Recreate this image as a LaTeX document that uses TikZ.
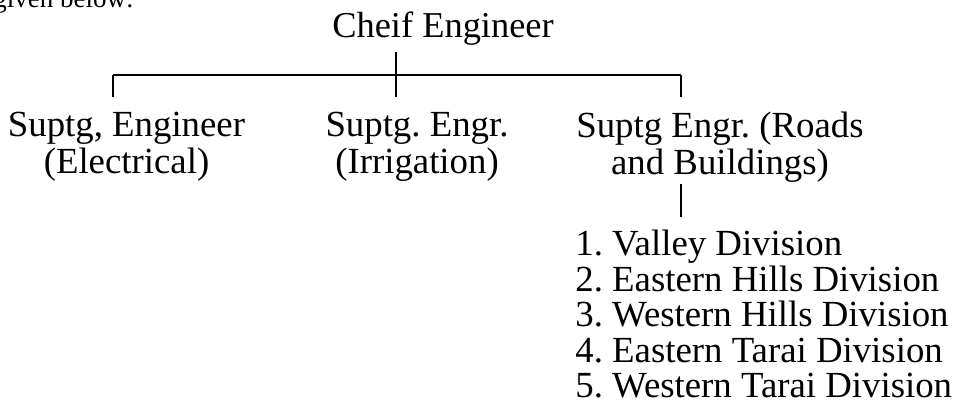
\documentclass[tikz,border=0pt]{standalone}
\usepackage{fontspec}
\setmainfont{Liberation Serif}
\frenchspacing

\begin{document}
\begin{tikzpicture}[
  x=0.5pt, y=-0.5pt,
  head/.style={
    inner sep=0pt,
    font=\fontsize{18.2}{18.3}\selectfont
  },
  post/.style={
    inner sep=0pt,
    align=center,
    anchor=north,
    font=\fontsize{18.4}{18.3}\selectfont
  },
  divlist/.style={
    inner sep=0pt,
    align=left,
    anchor=north west,
    font=\fontsize{18.4}{17.7}\selectfont
  },
  link/.style={line width=1.3pt, draw=black}
]
\useasboundingbox (0,0) rectangle (958,405);

% running text above the chart, cut at the top
\begin{scope}
  \clip (0,0) rectangle (958,405);
  \node[inner sep=0pt, anchor=base west, font=\fontsize{13.5}{16}\selectfont] (lead) at (-7,8) {given below:};
\end{scope}

\node[head, anchor=base] (chief) at (443,38) {Cheif Engineer};

\coordinate (lbar) at (113,75);
\coordinate (hub) at (396,75);
\coordinate (rbar) at (681,75);

\node[post] (elec) at (126.5,112) {Suptg, Engineer\\(Electrical)};
\node[post] (irr) at (417,112) {Suptg. Engr.\\(Irrigation)};
\node[post] (road) at (720,112) {Suptg Engr. (Roads\\and Buildings)};

\node[divlist] (divs) at (575,230) {1. Valley Division\\2. Eastern Hills Division\\3. Western Hills Division\\4. Eastern Tarai Division\\5. Western Tarai Division};

\draw[link] (lbar) -- (rbar);
\draw[link, shorten <=3pt, shorten >=7.5pt] (chief.south -| hub) -- (hub |- irr.north);
\draw[link, shorten >=7.5pt] (lbar) -- (lbar |- elec.north);
\draw[link, shorten >=7.5pt] (rbar) -- (rbar |- road.north);
\draw[link, shorten <=0.5pt, shorten >=6.5pt] (road.south -| rbar) -- (rbar |- divs.north);

\end{tikzpicture}
\end{document}
